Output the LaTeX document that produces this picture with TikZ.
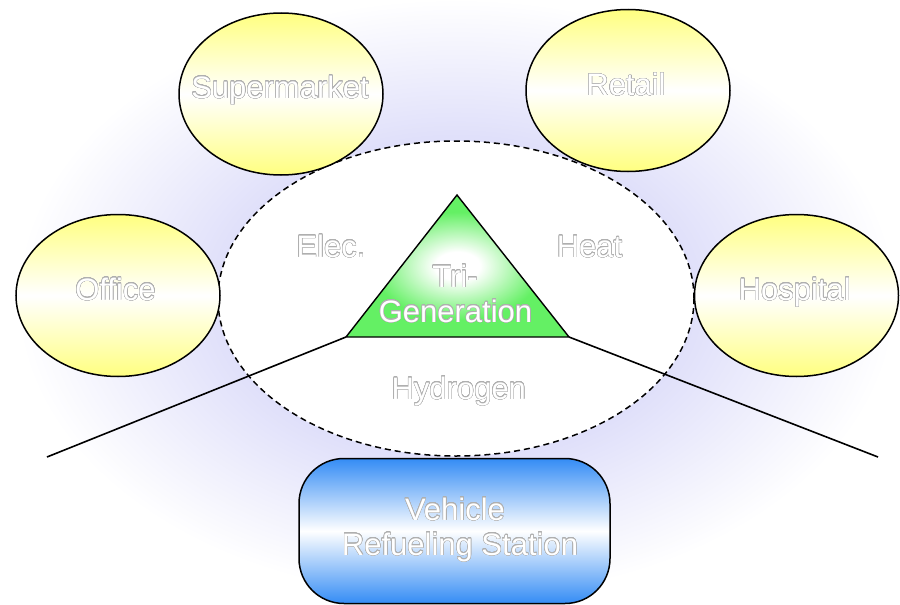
\documentclass[tikz,border=0pt]{standalone}
\usepackage{fontspec}
\setmainfont{Liberation Sans}
\usepackage[copies]{contour}
\usetikzlibrary{shapes.geometric}

\definecolor{haze}{RGB}{224,224,250}
\definecolor{sunyellow}{RGB}{255,255,128}
\definecolor{trigreen}{RGB}{100,240,100}
\definecolor{fuelblue}{RGB}{52,140,245}
\definecolor{rimgray}{RGB}{175,175,175}

% soft lavender halo around the plant boundary
\pgfdeclareradialshading{haloshade}{\pgfpoint{0bp}{0bp}}{%
  color(0bp)=(haze); color(13.5bp)=(haze); color(25bp)=(white); color(50bp)=(white)}
% bright core of the tri-generation triangle
\pgfdeclareradialshading{trishade}{\pgfpoint{0bp}{0bp}}{%
  color(0bp)=(white); color(5bp)=(white); color(19bp)=(trigreen); color(50bp)=(trigreen)}

% white letters with a thin grey rim
\contourlength{0.4pt}
\contournumber{24}
\newcommand\hollow[1]{\contour{rimgray}{\color{white}#1}}

\tikzset{
  site/.style={ellipse, draw=black, line width=1.5pt, minimum width=204pt,
    minimum height=162pt, inner sep=0pt,
    top color=sunyellow, bottom color=sunyellow, middle color=white},
  word/.style={anchor=base, inner sep=0pt, text=white,
    font=\fontsize{31}{35}\selectfont},
}

\begin{document}
\begin{tikzpicture}[x=1pt,y=-1pt]
\useasboundingbox (0,0) rectangle (900,605);

\begin{scope}
  \clip (0,0) rectangle (900,605);
  \shade[shading=haloshade] (456,298.5) ellipse [x radius=440, y radius=300];
\end{scope}

% plant boundary
\node[ellipse, draw=black, fill=white, line width=1.5pt, dash pattern=on 6pt off 4pt,
  minimum width=476pt, minimum height=315pt, inner sep=0pt] (plant) at (456,298.5) {};

% triangle corners and the ends of the two leads
\coordinate (apex) at (457,195);
\coordinate (baseL) at (346,337);
\coordinate (baseR) at (569,337);
\coordinate (endL) at (47,457);
\coordinate (endR) at (878,457);

\draw[line width=1.6pt] (baseL) -- (endL);
\draw[line width=1.6pt] (baseR) -- (endR);

\shadedraw[shading=trishade, draw=black, line width=1.4pt, line join=miter]
  (apex) -- (baseL) -- (baseR) -- cycle;

% consumers
\node[site] (supermarket) at (281,94) {};
\node[site] (retail) at (628,90.5) {};
\node[site] (office) at (118,295.5) {};
\node[site] (hospital) at (796.5,295.5) {};

% refuelling station
\node[rectangle, rounded corners=45pt, draw=black, line width=1.5pt,
  minimum width=311pt, minimum height=145pt, inner sep=0pt,
  top color=fuelblue, bottom color=fuelblue, middle color=white] (station) at (454.5,531) {};

% labels
\node[word] (lsuper) at (280,98) {\hollow{Supermarket}};
\node[word] (lretail) at (626,95.5) {\hollow{Retail}};
\node[word] (loffice) at (115.5,300) {\hollow{Office}};
\node[word] (lhosp) at (794.7,300) {\hollow{Hospital}};
\node[word] (lelec) at (331,257) {\hollow{Elec.}};
\node[word] (lheat) at (589.5,257) {\hollow{Heat}};
\node[word] (lhydro) at (458.8,399) {\hollow{Hydrogen}};
\node[word] (ltri) at (455,287) {\hollow{Tri-}};
\node[word] (lgen) at (455.5,322) {\hollow{Generation}};
\node[word] (lveh) at (455,520) {\hollow{Vehicle}};
\node[word] (lref) at (460,555) {\hollow{Refueling Station}};
\end{tikzpicture}
\end{document}
